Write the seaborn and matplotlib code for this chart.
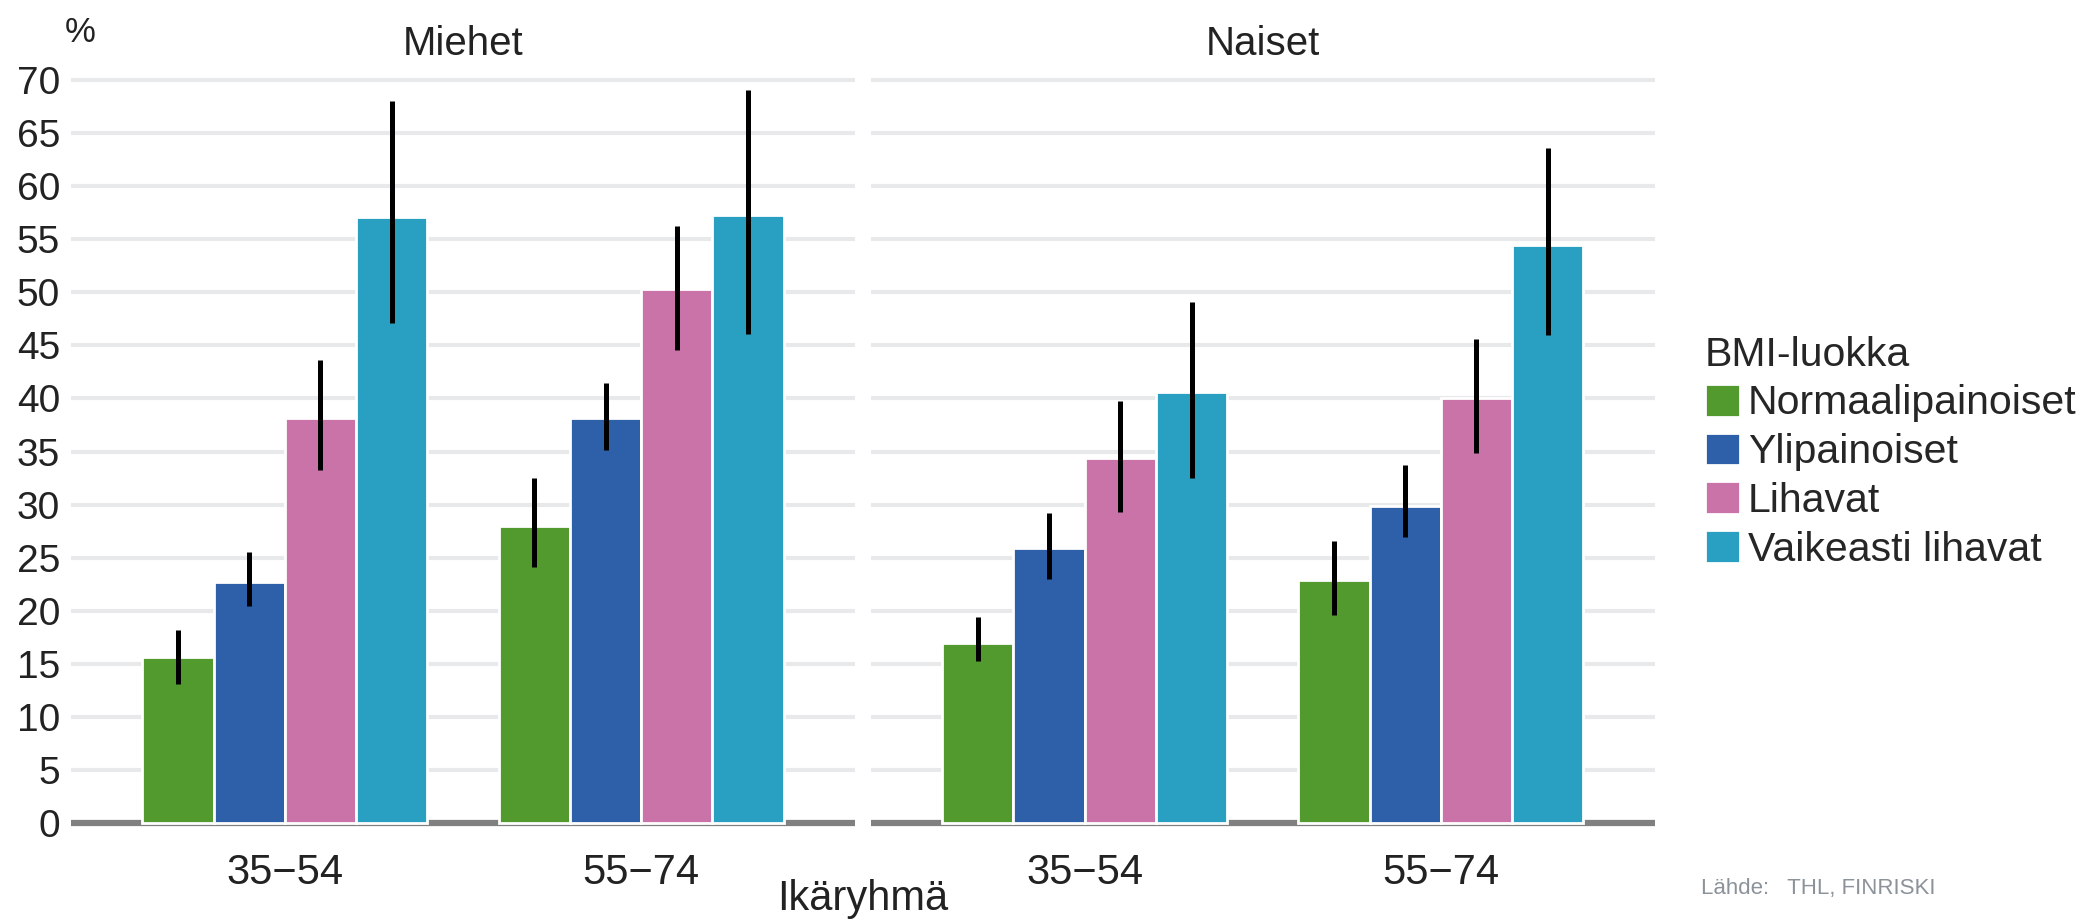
import pandas as pd
import numpy as np
import matplotlib
matplotlib.use('Agg')
import matplotlib.pyplot as plt
import seaborn as sns

# --- data ---
sukupuolet = ['Miehet', 'Naiset']
ikaryhmat = ['35−54', '55−74']
bmi_luokat = ['Normaalipainoiset', 'Ylipainoiset', 'Lihavat', 'Vaikeasti lihavat']
varit = ['#529a2e', '#2e5fa9', '#c973a8', '#29a0c2']

# order: 35-54 (4 bmi classes), then 55-74 (4 bmi classes)
miehet_arvo = [15.6, 22.7, 38.2, 57.1, 28.0, 38.2, 50.3, 57.3]
miehet_ala = [13.1, 20.4, 33.3, 47.1, 24.1, 35.1, 44.6, 46.1]
miehet_yla = [18.2, 25.5, 43.6, 68.0, 32.5, 41.5, 56.2, 69.1]

naiset_arvo = [17.0, 25.9, 34.4, 40.6, 22.9, 29.9, 40.0, 54.5]
naiset_ala = [15.3, 23.0, 29.3, 32.5, 19.6, 26.9, 34.9, 46.0]
naiset_yla = [19.4, 29.2, 39.8, 49.1, 26.6, 33.7, 45.6, 63.6]

y_ticks = list(range(0, 75, 5))

# build long table
rows = []
for sp, arvo, ala, yla in [('Miehet', miehet_arvo, miehet_ala, miehet_yla),
                           ('Naiset', naiset_arvo, naiset_ala, naiset_yla)]:
    k = 0
    for ika in ikaryhmat:
        for bmi in bmi_luokat:
            rows.append({'sukupuoli': sp, 'ika': ika, 'bmi': bmi,
                         'arvo': arvo[k], 'ala': ala[k], 'yla': yla[k]})
            k += 1
df = pd.DataFrame(rows)

# --- style ---
sns.set_style('white')
plt.rcParams['font.family'] = ['Liberation Sans', 'DejaVu Sans']
tekstivari = '#222222'

fig = plt.figure(figsize=(20.91, 9.22), dpi=100)
ax1 = fig.add_axes([71 / 2091, 0.1016, 784 / 2091, 0.8174])
ax2 = fig.add_axes([871 / 2091, 0.1016, 783.5 / 2091, 0.8174])

for ax, sp in zip([ax1, ax2], sukupuolet):
    d = df[df['sukupuoli'] == sp]
    sns.barplot(data=d, x='ika', y='arvo', hue='bmi', order=ikaryhmat,
                hue_order=bmi_luokat, palette=varit, errorbar=None,
                edgecolor='white', linewidth=2, saturation=1,
                legend=(sp == 'Naiset'), ax=ax, zorder=2)

    # error bars from the drawn bars
    for i, bars in enumerate(ax.containers):
        for j, bar in enumerate(bars):
            r = d[(d['bmi'] == bmi_luokat[i]) & (d['ika'] == ikaryhmat[j])].iloc[0]
            xc = bar.get_x() + bar.get_width() / 2
            ax.vlines(xc, r['ala'], r['yla'], color='black', lw=3.6, zorder=3)

    ax.set_xlim(-0.6, 1.6)
    ax.set_ylim(-0.5, 70.5)
    ax.set_yticks(y_ticks)
    ax.yaxis.grid(True, color='#e8e9eb', lw=3)
    ax.set_axisbelow(True)
    ax.axhline(0, color='#808080', lw=4.5, zorder=1)
    for s in ax.spines.values():
        s.set_visible(False)
    ax.tick_params(axis='both', length=0, colors=tekstivari)
    ax.tick_params(axis='x', labelsize=30, pad=18)
    ax.tick_params(axis='y', labelsize=28, pad=8)
    ax.set_xlabel('')
    ax.set_ylabel('')
    ax.set_title(sp, fontsize=29, color=tekstivari, pad=14)

ax2.tick_params(axis='y', labelleft=False)

# legend
handles, labels = ax2.get_legend_handles_labels()
ax2.legend(handles, labels, title='BMI-luokka', loc='upper left',
           bbox_to_anchor=(1705 / 2091, 0.636), bbox_transform=fig.transFigure,
           frameon=False, fontsize=29.5, title_fontsize=29.5, alignment='left',
           handlelength=0.85, handleheight=0.85, handletextpad=0.2,
           labelspacing=0.25, borderpad=0, borderaxespad=0)

fig.text(0.031, 0.965, '%', fontsize=25, color=tekstivari, ha='left', va='center')
fig.text(0.4127, 0.025, 'Ikäryhmä', fontsize=30, color=tekstivari, ha='center', va='center')
fig.text(0.8135, 0.036, 'Lähde:   THL, FINRISKI', fontsize=16, color='#8c9299',
         ha='left', va='center')

plt.savefig('out.png', dpi=100)
